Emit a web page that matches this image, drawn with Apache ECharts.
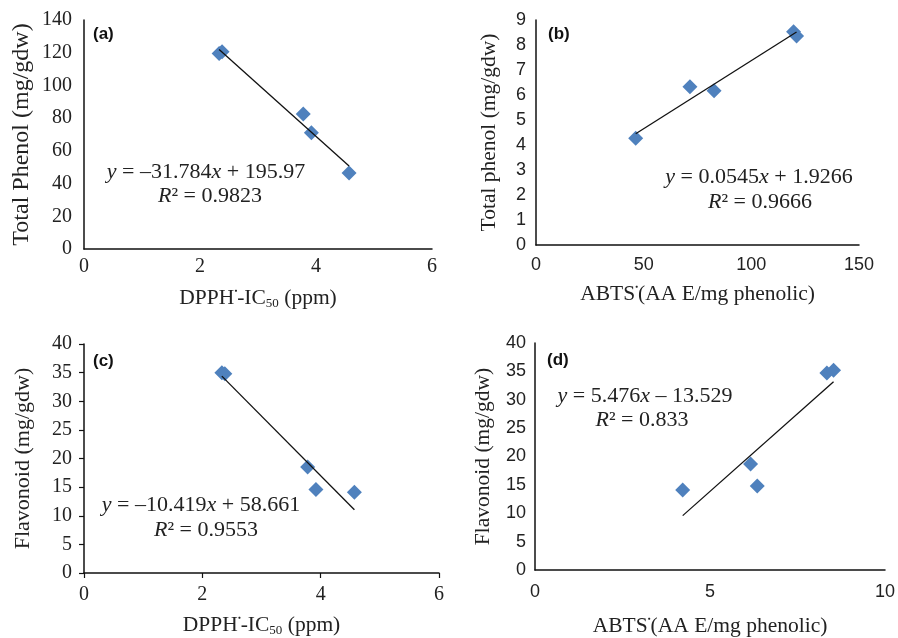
<!DOCTYPE html>
<html>
<head>
<meta charset="utf-8">
<script src="https://cdn.jsdelivr.net/npm/echarts@6/dist/echarts.min.js"></script>
<style>
  html, body { margin: 0; padding: 0; background: #fff; }
  #main { width: 898px; height: 638px; }
</style>
</head>
<body>
<div id="main"></div>
<script>
// panel (a): DPPH vs total phenol
var dpphA = [2.33, 2.38, 3.78, 3.92, 4.57];
var phenolA = [119.5, 120.6, 82.5, 71.1, 46.5];
// panel (b): ABTS vs total phenol
var abtsB = [46.3, 71.5, 82.7, 119.6, 121];
var phenolB = [4.27, 6.33, 6.17, 8.53, 8.36];
// panel (c): DPPH vs flavonoid
var dpphC = [2.33, 2.38, 3.78, 3.92, 4.57];
var flavC = [35, 34.8, 18.5, 14.6, 14.1];
// panel (d): ABTS vs flavonoid
var abtsD = [4.22, 6.16, 6.35, 8.34, 8.53];
var flavD = [14.1, 18.7, 14.8, 34.7, 35.2];

// linear trendlines as printed on the chart
var slopes = [-31.784, 0.0545, -10.419, 5.476];
var intercepts = [195.97, 1.9266, 58.661, -13.529];
var eqLines = [
  ['{i|y} = \u201331.784{i|x} + 195.97', '{i|R}\u00b2 = 0.9823'],
  ['{i|y} = 0.0545{i|x} + 1.9266', '{i|R}\u00b2 = 0.9666'],
  ['{i|y} = \u201310.419{i|x} + 58.661', '{i|R}\u00b2 = 0.9553'],
  ['{i|y} = 5.476{i|x} \u2013 13.529', '{i|R}\u00b2 = 0.833']
];
var panelTags = ['(a)', '(b)', '(c)', '(d)'];

var serif = 'Liberation Serif';
var sans = 'Liberation Sans';
var ink = '#222';

var xs = [dpphA, abtsB, dpphC, abtsD];
var ys = [phenolA, phenolB, flavC, flavD];

function pairs(a, b) {
  return a.map(function (v, i) { return [v, b[i]]; });
}
function trend(k) {
  var lo = Math.min.apply(null, xs[k]);
  var hi = Math.max.apply(null, xs[k]);
  return [[lo, slopes[k] * lo + intercepts[k]], [hi, slopes[k] * hi + intercepts[k]]];
}

var titleRich = {
  t: { fontFamily: serif, fontSize: 21.5, color: ink, lineHeight: 24 },
  sp: { fontFamily: serif, fontSize: 5, color: ink, verticalAlign: 'top', padding: [2, 0, 0, 0] },
  sb: { fontFamily: serif, fontSize: 13, color: ink, verticalAlign: 'bottom' }
};
var dpphName = '{t|DPPH}{sp|\u25cf}{t|-IC}{sb|50}{t| (ppm)}';
var abtsName = '{t|ABTS}{sp|\u25cf}{t|(AA E/mg phenolic)}';

function xAx(idx, max, interval, name, gap, font, size, margin, ticks) {
  return {
    type: 'value', gridIndex: idx, min: 0, max: max, interval: interval,
    name: name, nameLocation: 'middle', nameGap: gap,
    nameTextStyle: { rich: titleRich },
    axisLine: { show: true, onZero: false, lineStyle: { color: '#111', width: 1.5 } },
    axisTick: { show: ticks, length: 5, lineStyle: { color: '#111', width: 1.2 } },
    axisLabel: { fontFamily: font, fontSize: size, color: ink, margin: margin },
    splitLine: { show: false }
  };
}
function yAx(idx, max, interval, name, gap, font, size, margin, ticks, nsize) {
  return {
    type: 'value', gridIndex: idx, min: 0, max: max, interval: interval,
    name: name, nameLocation: 'middle', nameGap: gap, nameRotate: 90,
    nameTextStyle: { fontFamily: serif, fontSize: nsize, color: ink },
    axisLine: { show: true, onZero: false, lineStyle: { color: '#111', width: 1.5 } },
    axisTick: { show: ticks, length: 5, lineStyle: { color: '#111', width: 1.2 } },
    axisLabel: { fontFamily: font, fontSize: size, color: ink, margin: margin },
    splitLine: { show: false }
  };
}

var series = [];
for (var k = 0; k < 4; k++) {
  series.push({
    type: 'scatter', xAxisIndex: k, yAxisIndex: k,
    symbol: 'diamond', symbolSize: 15,
    itemStyle: { color: '#4f81bd', opacity: 1 },
    data: pairs(xs[k], ys[k]), z: 2
  });
  series.push({
    type: 'line', xAxisIndex: k, yAxisIndex: k,
    showSymbol: false, symbol: 'none',
    lineStyle: { color: '#111', width: 1.3 },
    data: trend(k), z: 3
  });
}

// text positions for equations and panel tags
var eqPos = [[206, 172, 210, 196], [759, 177, 760, 202], [201, 505, 206, 530], [645, 396, 642, 420]];
var tagPos = [[93, 34], [548, 34], [93, 361], [547, 360]];
var graphics = [];
for (var j = 0; j < 4; j++) {
  for (var l = 0; l < 2; l++) {
    graphics.push({
      type: 'text', x: eqPos[j][l * 2], y: eqPos[j][l * 2 + 1], z: 10,
      style: {
        text: eqLines[j][l], fontFamily: serif, fontSize: 22, fill: ink,
        align: 'center', verticalAlign: 'middle',
        rich: { i: { fontFamily: serif, fontSize: 22, fontStyle: 'italic', fill: ink } }
      }
    });
  }
  graphics.push({
    type: 'text', x: tagPos[j][0], y: tagPos[j][1], z: 10,
    style: {
      text: panelTags[j], fontFamily: sans, fontSize: 17, fontWeight: 'bold', fill: '#111',
      align: 'left', verticalAlign: 'middle'
    }
  });
}

var option = {
  animation: false,
  backgroundColor: '#fff',
  grid: [
    { left: 84, top: 20, width: 348, height: 229 },
    { left: 536, top: 20, width: 323, height: 225 },
    { left: 84, top: 344, width: 355, height: 230 },
    { left: 535, top: 343, width: 352, height: 232 }
  ],
  xAxis: [
    xAx(0, 6, 2, dpphName, 37, serif, 20, 8, false),
    xAx(1, 150, 50, abtsName, 37, sans, 18, 11, false),
    xAx(2, 6, 2, dpphName, 40, serif, 20, 12, true),
    xAx(3, 10, 5, abtsName, 44, sans, 18, 13, false)
  ],
  yAxis: [
    yAx(0, 140, 20, 'Total Phenol (mg/gdw)', 50, serif, 20, 12, false, 24),
    yAx(1, 9, 1, 'Total phenol (mg/gdw)', 36, sans, 18, 10, false, 21.5),
    yAx(2, 40, 5, 'Flavonoid (mg/gdw)', 50, serif, 20, 12, true, 22),
    yAx(3, 40, 5, 'Flavonoid (mg/gdw)', 41, sans, 18, 9, false, 21.5)
  ],
  series: series,
  graphic: graphics
};

var chart = echarts.init(document.getElementById('main'));
chart.setOption(option);
</script>
</body>
</html>
